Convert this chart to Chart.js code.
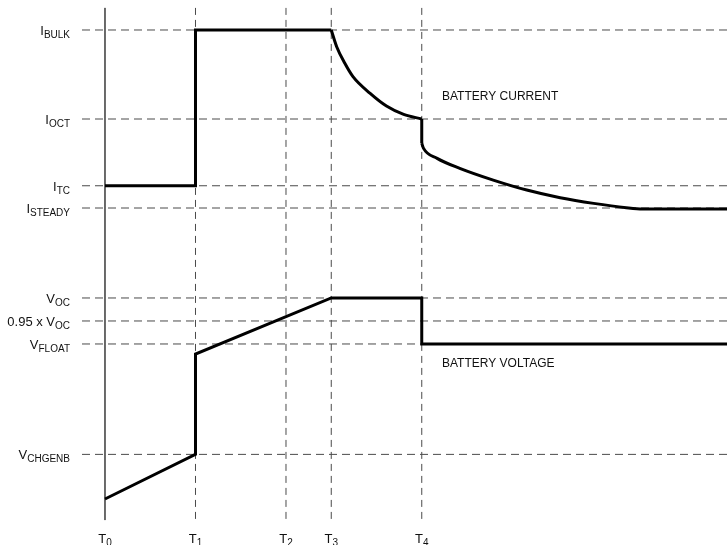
<!DOCTYPE html>
<html>
<head>
<meta charset="utf-8">
<script src="https://cdn.jsdelivr.net/npm/chart.js@4/dist/chart.umd.min.js"></script>
<style>
  html, body { margin: 0; padding: 0; background: #fff; }
  #chart { display: block; }
</style>
</head>
<body>
<canvas id="chart" width="727" height="545"></canvas>
<script>
// time markers along the bottom
const timeNames = ['0', '1', '2', '3', '4'];
const timePos = [0, 1, 2, 2.5, 3.5];

// current levels (normalised to I_BULK)
const currentNames = [['I', 'BULK'], ['I', 'OCT'], ['I', 'TC'], ['I', 'STEADY']];
const currentLevels = [1, 0.5, 0.125, 0];

// voltage levels (normalised to V_OC)
const voltageNames = [['V', 'OC'], ['0.95 x V', 'OC'], ['V', 'FLOAT'], ['V', 'CHGENB']];
const voltageLevels = [1, 0.95, 0.9, 0.66];

// battery current: trickle + bulk steps, then drop at T4
const stepT = [0, 1, 1, 2.5, null, 3.5, 3.5];
const stepI = [0.125, 0.125, 1, 1, null, 0.5, 0.364];
// taper between T3 and T4
const taperT = [2.5, 2.56, 2.65, 2.74, 2.93, 3.11, 3.3, 3.5];
const taperI = [1, 0.906, 0.813, 0.738, 0.644, 0.573, 0.526, 0.5];
// decay after T4 down to I_STEADY
const tailT = [3.5, 3.52, 3.67, 3.92, 4.29, 4.66, 5.03, 5.4, 5.76, 5.94, 6.9];
const tailI = [0.364, 0.335, 0.279, 0.223, 0.157, 0.101, 0.058, 0.026, 0.002, -0.005, -0.005];

// battery voltage trace
const voltageT = [0, 1, 1, 2.5, 3.5, 3.5, 6.9];
const voltageV = [0.563, 0.66, 0.878, 1, 1, 0.9, 0.9];

// extents of the guide lines
const guideStart = -0.254;
const guideEnd = 6.9;
const markerTop = 1.124;
const markerBottom = -1.753;

window.addEventListener('DOMContentLoaded', () => {
  const ctx = document.getElementById('chart').getContext('2d');
  const FONT = '"Liberation Sans", Arial, Helvetica, sans-serif';
  const GUIDE = '#4a4a4a';

  const zip = (xs, ys) => xs.map((x, i) => ({ x: x === null ? 3 : x, y: ys[i] }));

  const datasets = [
    { data: zip(stepT, stepI), yAxisID: 'yI', borderColor: '#000', borderWidth: 3 },
    { data: zip(taperT, taperI), yAxisID: 'yI', borderColor: '#000', borderWidth: 3, cubicInterpolationMode: 'monotone' },
    { data: zip(tailT, tailI), yAxisID: 'yI', borderColor: '#000', borderWidth: 3, cubicInterpolationMode: 'monotone' },
    { data: zip(voltageT, voltageV), yAxisID: 'yV', borderColor: '#000', borderWidth: 3 }
  ];

  currentLevels.forEach(v => {
    datasets.push({
      data: [{ x: guideStart, y: v }, { x: guideEnd, y: v }],
      yAxisID: 'yI', borderColor: GUIDE, borderWidth: 1, borderDash: [8, 5]
    });
  });
  voltageLevels.forEach(v => {
    datasets.push({
      data: [{ x: guideStart, y: v }, { x: guideEnd, y: v }],
      yAxisID: 'yV', borderColor: GUIDE, borderWidth: 1, borderDash: [8, 5]
    });
  });
  timePos.forEach((t, i) => {
    datasets.push({
      data: [{ x: t, y: markerTop }, { x: t, y: markerBottom }],
      yAxisID: 'yI', borderColor: i === 0 ? '#555' : GUIDE, borderWidth: 1,
      borderDash: i === 0 ? [] : [7, 5]
    });
  });

  function drawSub(c, main, sub, x, y, align) {
    c.font = '13px ' + FONT;
    const wm = c.measureText(main).width;
    c.font = '10px ' + FONT;
    const ws = c.measureText(sub).width;
    let start = x;
    if (align === 'right') start = x - wm - ws;
    if (align === 'center') start = x - (wm + ws) / 2;
    c.font = '13px ' + FONT;
    c.fillText(main, start, y + 5);
    c.font = '10px ' + FONT;
    c.fillText(sub, start + wm, y + 8);
  }

  const labelPlugin = {
    id: 'labels',
    afterDraw(chart) {
      const c = chart.ctx;
      const sx = chart.scales.x;
      const si = chart.scales.yI;
      const sv = chart.scales.yV;
      c.save();
      c.fillStyle = '#111';
      c.textAlign = 'left';
      c.textBaseline = 'alphabetic';
      currentNames.forEach((n, i) => drawSub(c, n[0], n[1], 70, si.getPixelForValue(currentLevels[i]), 'right'));
      voltageNames.forEach((n, i) => drawSub(c, n[0], n[1], 70, sv.getPixelForValue(voltageLevels[i]), 'right'));
      timeNames.forEach((n, i) => drawSub(c, 'T', n, sx.getPixelForValue(timePos[i]), 538, 'center'));
      c.font = '12px ' + FONT;
      c.textBaseline = 'middle';
      c.fillText('BATTERY CURRENT', 442, 97);
      c.fillText('BATTERY VOLTAGE', 442, 364);
      c.restore();
    }
  };

  const chart = new Chart(ctx, {
    type: 'line',
    data: { datasets: datasets },
    plugins: [labelPlugin],
    options: {
      responsive: false,
      animation: false,
      spanGaps: false,
      layout: { padding: 0 },
      elements: {
        point: { radius: 0, hoverRadius: 0 },
        line: { tension: 0, fill: false }
      },
      scales: {
        x: { type: 'linear', display: false, min: -1.1602, max: 6.8729 },
        yI: { type: 'linear', display: false, min: -1.893, max: 1.1685 },
        yV: { type: 'linear', display: false, min: 0.463, max: 1.6478 }
      },
      plugins: {
        legend: { display: false },
        tooltip: { enabled: false }
      }
    }
  });
});
</script>
</body>
</html>
